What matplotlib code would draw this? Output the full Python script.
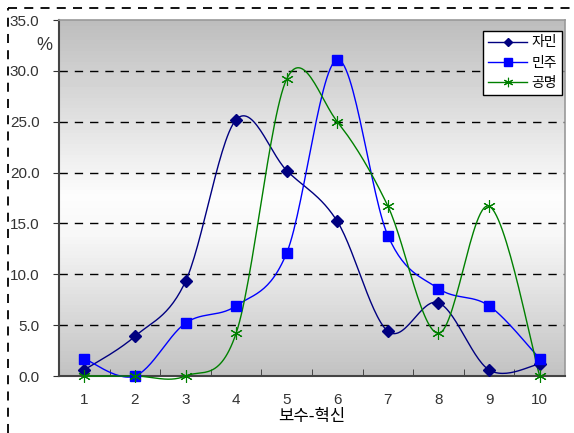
import numpy as np
import matplotlib
matplotlib.use("Agg")
import matplotlib.pyplot as plt
from matplotlib.lines import Line2D

plt.rcParams['font.family'] = ['Liberation Sans', 'Noto Sans CJK KR']

cats = [1, 2, 3, 4, 5, 6, 7, 8, 9, 10]
jamin = [0.6, 3.9, 9.3, 25.2, 20.2, 15.2, 4.4, 7.2, 0.6, 1.2]
minju = [1.7, 0.0, 5.2, 6.9, 12.1, 31.1, 13.8, 8.6, 6.9, 1.7]
gongmyeong = [0.0, 0.0, 0.0, 4.2, 29.2, 25.0, 16.7, 4.2, 16.7, 0.0]
names = ['자민', '민주', '공명']


def smooth(xs, ys, n=30):
    # catmull-rom like excel's smoothed line
    p = np.column_stack([xs, ys]).astype(float)
    p = np.vstack([p[0], p, p[-1]])
    out = []
    for i in range(1, len(p) - 2):
        p0, p1, p2, p3 = p[i - 1], p[i], p[i + 1], p[i + 2]
        c1 = p1 + (p2 - p0) / 6
        c2 = p2 - (p3 - p1) / 6
        t = np.linspace(0, 1, n)[:, None]
        seg = ((1 - t) ** 3) * p1 + 3 * ((1 - t) ** 2) * t * c1 + 3 * (1 - t) * t ** 2 * c2 + t ** 3 * p2
        out.append(seg if i == 1 else seg[1:])
    out = np.vstack(out)
    return out[:, 0], out[:, 1]


fig = plt.figure(figsize=(5.74, 4.33), dpi=100)
ax = fig.add_axes([0.1028, 0.1316, 0.8815, 0.8222])

# gradient background, gray - white - gray
grad = np.concatenate([np.linspace(0.74, 0.99, 50), np.linspace(0.99, 0.97, 10),
                       np.linspace(0.97, 0.76, 40)])
ax.imshow(grad[:, None], extent=[0.5, 10.5, 0, 35], aspect='auto', cmap='gray',
          vmin=0, vmax=1, zorder=0, origin='upper')

for y in [5, 10, 15, 20, 25, 30]:
    ax.axhline(y, color='black', lw=1, dashes=(6, 5), zorder=1)

styles = [
    dict(color='#000080', marker='D', ms=6, mfc='#000080', mec='#000080', mew=1),
    dict(color='#0000ff', marker='s', ms=7, mfc='#0000ff', mec='#0000ff', mew=1),
    dict(color='#008000', marker=(6, 2, 0), ms=9, mfc='none', mec='#008000', mew=0.8),
]
handles = []
for vals, name, st in zip([jamin, minju, gongmyeong], names, styles):
    sx, sy = smooth(cats, vals)
    ax.plot(sx, sy, color=st['color'], lw=1, zorder=3, clip_on=False)
    ax.plot(cats, vals, ls='none', marker=st['marker'], ms=st['ms'], mfc=st['mfc'],
            mec=st['mec'], mew=st['mew'], zorder=4, clip_on=False)
    handles.append(Line2D([], [], color=st['color'], lw=1, marker=st['marker'],
                          ms=st['ms'] * 0.75, mfc=st['mfc'], mec=st['mec'], mew=st['mew']))

ax.set_xlim(0.5, 10.5)
ax.set_ylim(0, 35)
ax.set_yticks(np.arange(0, 36, 5))
ax.set_yticklabels(['%.1f' % v for v in np.arange(0, 36, 5)])
ax.set_xticks(cats)
ax.set_xticks(np.arange(1.5, 10, 1), minor=True)
ax.tick_params(axis='x', which='major', length=0, pad=12, labelsize=11, labelcolor='#333333')
ax.tick_params(axis='x', which='minor', direction='in', length=5, color='#333333')
ax.tick_params(axis='y', direction='out', length=4, pad=10, labelsize=11,
               labelcolor='#333333', color='#333333')

for s in ['left', 'bottom']:
    ax.spines[s].set_color('#444444')
    ax.spines[s].set_linewidth(1.5)
for s in ['top', 'right']:
    ax.spines[s].set_color('#999999')
    ax.spines[s].set_linewidth(1.2)

ax.set_xlabel('보수-혁신', fontsize=12, family=['Noto Sans CJK KR'], labelpad=1)
fig.text(0.077, 0.895, '%', fontsize=13, ha='center', va='center', color='#333333')

leg = ax.legend(handles, names, loc='upper right', bbox_to_anchor=(1.007, 0.99),
                prop={'family': 'Noto Sans CJK KR', 'size': 10}, frameon=True,
                fancybox=False, edgecolor='black', framealpha=1, borderpad=0.35,
                handlelength=2.8, handletextpad=0.3, labelspacing=0.45)
leg.get_frame().set_linewidth(1)

# dashed border of the original figure
fig.add_artist(Line2D([8 / 574, 8 / 574], [0, 1 - 8 / 433], color='black', lw=1.3,
                      dashes=(5, 4), transform=fig.transFigure))
fig.add_artist(Line2D([8 / 574, 1], [1 - 8 / 433, 1 - 8 / 433], color='black', lw=1.3,
                      dashes=(5, 4), transform=fig.transFigure))

fig.savefig('out.png', dpi=100)
